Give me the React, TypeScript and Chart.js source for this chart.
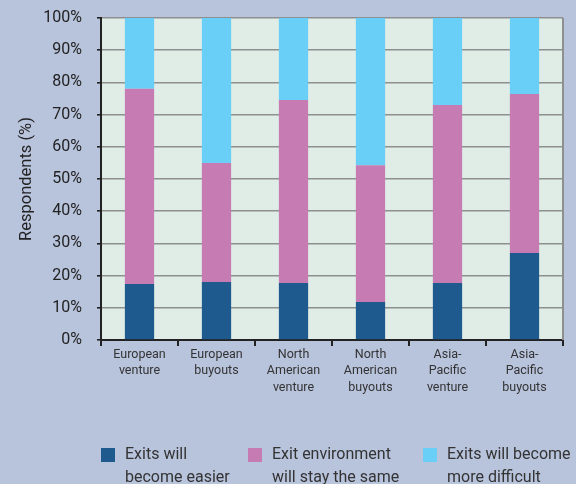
import React, { useEffect, useRef } from "react";
import { Chart, registerables } from "chart.js";

Chart.register(...registerables);

const categories: string[][] = [
  ["European", "venture"],
  ["European", "buyouts"],
  ["North", "American", "venture"],
  ["North", "American", "buyouts"],
  ["Asia-", "Pacific", "venture"],
  ["Asia-", "Pacific", "buyouts"],
];

const easier = [17.4, 18.0, 17.7, 11.8, 17.7, 27.0];
const same = [60.6, 37.0, 56.8, 42.5, 55.3, 49.4];
const harder = [22.0, 45.0, 25.5, 45.7, 27.0, 23.6];

const seriesLabels: string[][] = [
  ["Exits will", "become easier"],
  ["Exit environment", "will stay the same"],
  ["Exits will become", "more difficult"],
];

const yTicks = [0, 10, 20, 30, 40, 50, 60, 70, 80, 90, 100];

const FONT = "Roboto";

const plotDecor = {
  id: "plotDecor",
  beforeDraw(chart: any) {
    const { ctx, chartArea } = chart;
    ctx.save();
    ctx.fillStyle = "#dfede6";
    ctx.fillRect(chartArea.left, chartArea.top, chartArea.right - chartArea.left, chartArea.bottom - chartArea.top);
    ctx.restore();
  },
  afterDraw(chart: any) {
    const { ctx, chartArea } = chart;
    ctx.save();
    ctx.strokeStyle = "#8e8f91";
    ctx.lineWidth = 2;
    ctx.beginPath();
    ctx.moveTo(chartArea.right, chartArea.top);
    ctx.lineTo(chartArea.right, chartArea.bottom);
    ctx.stroke();

    // legend
    ctx.font = `16px ${FONT}`;
    ctx.textBaseline = "middle";
    ctx.textAlign = "left";
    const offsets = [0, 147, 322];
    const y0 = chartArea.bottom + 115;
    const box = 14;
    const lineH = 23;
    chart.data.datasets.forEach((ds: any, i: number) => {
      const x = chartArea.left + offsets[i];
      const lines: string[] = seriesLabels[i];
      ctx.fillStyle = ds.backgroundColor;
      ctx.fillRect(x, y0 - box / 2, box, box);
      ctx.fillStyle = "#333333";
      lines.forEach((ln, j) => {
        ctx.fillText(ln, x + box + 10, y0 + j * lineH);
      });
    });
    ctx.restore();
  },
};

export default function App() {
  const ref = useRef<HTMLCanvasElement>(null);
  useEffect(() => {
    const canvas = ref.current!;
    const chart = new Chart(canvas, {
      type: "bar",
      data: {
        labels: categories,
        datasets: [
          { label: seriesLabels[0].join(" "), data: easier, backgroundColor: "#1f5a8e" },
          { label: seriesLabels[1].join(" "), data: same, backgroundColor: "#c67bb3" },
          { label: seriesLabels[2].join(" "), data: harder, backgroundColor: "#6acff6" },
        ],
      },
      options: {
        responsive: false,
        animation: false,
        layout: { padding: { left: 0, top: 18, right: 13, bottom: 0 } },
        datasets: { bar: { categoryPercentage: 1, barPercentage: 0.38 } },
        plugins: {
          legend: { display: false },
          tooltip: { enabled: false },
        },
        scales: {
          x: {
            stacked: true,
            grid: { offset: true, drawOnChartArea: false, tickLength: 6, tickColor: "#222222", lineWidth: 2 },
            border: { color: "#222222", width: 2 },
            ticks: {
              color: "#333333",
              padding: 0,
              maxRotation: 0,
              autoSkip: false,
              font: { family: FONT, size: 12.5, lineHeight: 1.35 },
            },
            afterFit: (s: any) => {
              s.height = 144;
              s.paddingLeft = 0;
              s.paddingRight = 0;
            },
          },
          y: {
            stacked: true,
            min: 0,
            max: 100,
            afterBuildTicks: (s: any) => {
              s.ticks = yTicks.map((v) => ({ value: v }));
            },
            grid: { color: "#8e8f91", lineWidth: 1.6, tickLength: 4, tickColor: "#222222" },
            border: { color: "#222222", width: 2 },
            ticks: {
              color: "#222222",
              padding: 15,
              font: { family: FONT, size: 16 },
              callback: (v: any) => `${v}%`,
            },
            title: {
              display: true,
              text: "Respondents (%)",
              color: "#222222",
              font: { family: FONT, size: 16.5 },
              padding: { top: 17, bottom: 0 },
            },
            afterFit: (s: any) => {
              s.width = 101;
              s.paddingTop = 0;
              s.paddingBottom = 0;
            },
          },
        },
      },
      plugins: [plotDecor],
    });
    return () => chart.destroy();
  }, []);
  return (
    <div style={{ position: "fixed", left: 0, top: 0, width: 576, height: 484, background: "#b8c3dc" }}>
      <canvas ref={ref} width={576} height={484} style={{ display: "block" }} />
    </div>
  );
}
